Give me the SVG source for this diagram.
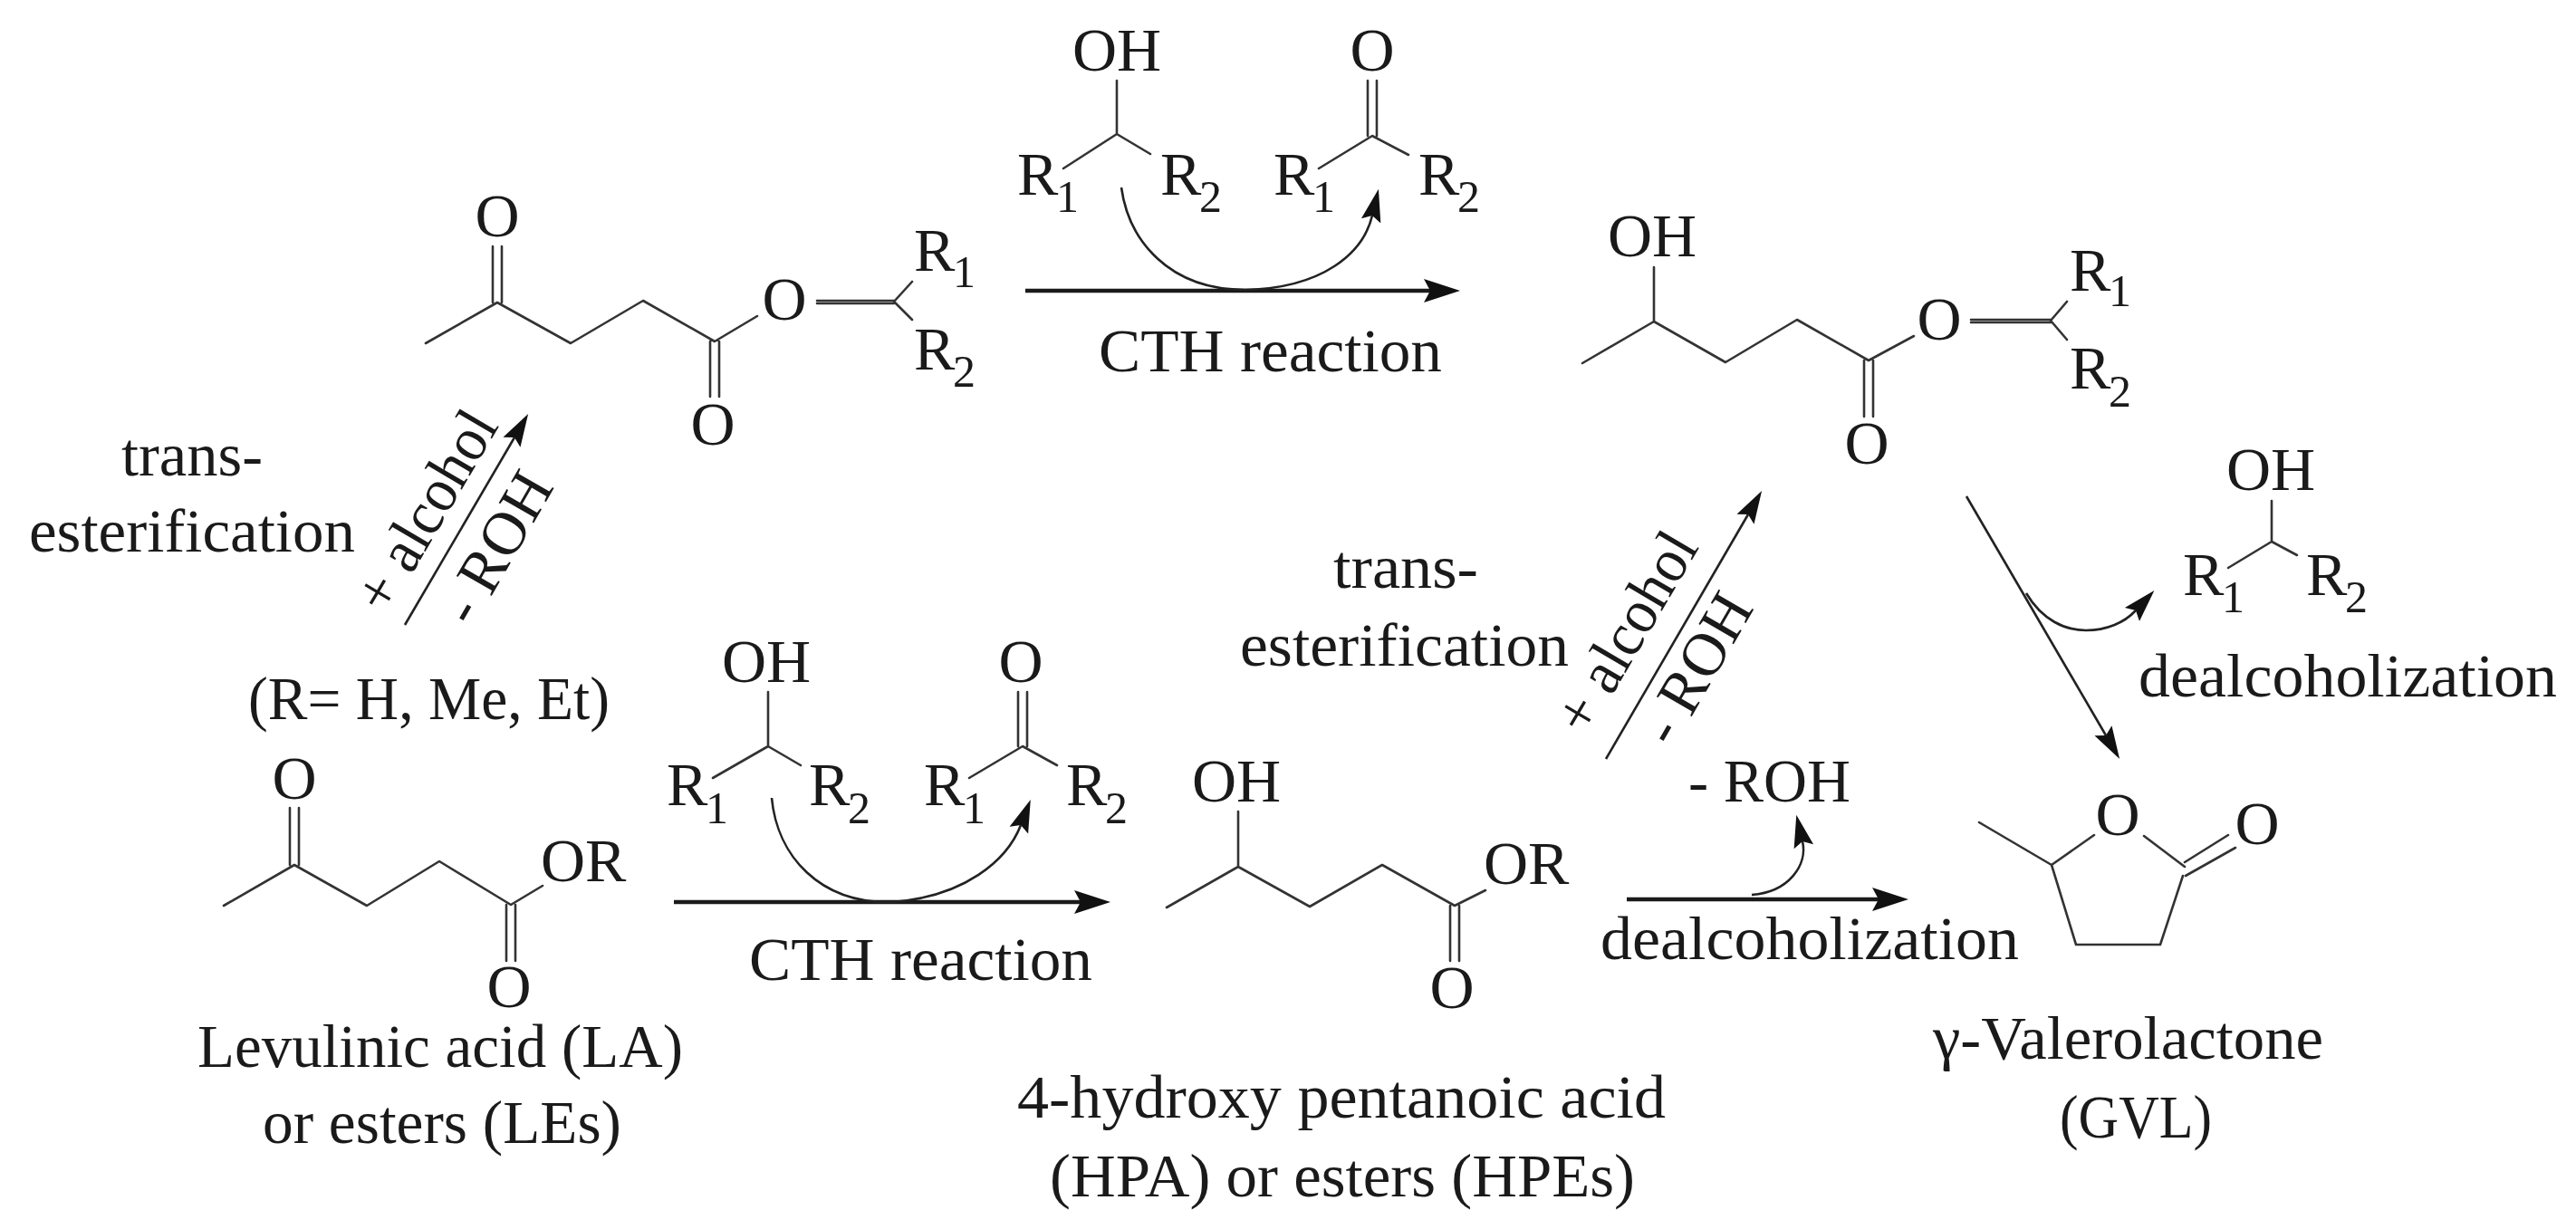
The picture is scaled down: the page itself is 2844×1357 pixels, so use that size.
<svg xmlns="http://www.w3.org/2000/svg" width="2844" height="1357" viewBox="0 0 2844 1357">
<style>
text{font-family:"Liberation Serif","Times New Roman",serif;font-size:68px;fill:#1a1a1a}
.s{font-size:50px}
.m{text-anchor:middle}
.b{fill:none;stroke:#333;stroke-width:2.6;stroke-linecap:round;stroke-linejoin:round}
.a{fill:none;stroke:#222;stroke-width:2.6}
.t{stroke:#1a1a1a;stroke-width:4.5;fill:none}
</style>
<defs>
<marker id="big" markerUnits="userSpaceOnUse" markerWidth="44" markerHeight="30" viewBox="0 -15 44 30" refX="7" refY="0" orient="auto"><path d="M0,-13 L40,0 L0,13 L7,0z" fill="#111"/></marker>
<marker id="thin" markerUnits="userSpaceOnUse" markerWidth="40" markerHeight="26" viewBox="0 -13 40 26" refX="6" refY="0" orient="auto"><path d="M0,-11 L36,0 L0,11 L6,0z" fill="#111"/></marker>
</defs>
<rect width="2844" height="1357" fill="#fff"/>

<g id="connectors">
<path class="t" d="M1132,321H1579" marker-end="url(#big)"/>
<path class="t" d="M744,996H1193" marker-end="url(#big)"/>
<path class="t" d="M1796,993H2074" marker-end="url(#big)"/>
<path class="a" d="M447,690L568,483" marker-end="url(#thin)"/>
<path class="a" d="M1773,838L1930,568" marker-end="url(#thin)"/>
<path class="a" d="M2171,548L2325,812" marker-end="url(#thin)"/>
<path class="a" d="M1238,207C1246,265 1290,320 1375,320C1460,318 1505,280 1515,238" marker-end="url(#thin)"/>
<path class="a" d="M852,881C858,945 905,998 985,996C1065,990 1112,950 1127,911" marker-end="url(#thin)"/>
<path class="a" d="M2237,655C2255,685 2280,696 2303,696C2325,696 2345,688 2358,674" marker-end="url(#thin)"/>
<path class="a" d="M1934,988C1975,985 1996,955 1990,929" marker-end="url(#thin)"/>
</g>

<g id="keto-ester">
<path class="b" d="M470,379L549,334L630,379L710,332L789,377L836,349M544,334V272M554,334V272M784,377V438M794,377V438M902,332H987M902,335H987M987,333L1007,311M987,333L1007,353"/>
<text class="m" x="549" y="261">O</text>
<text class="m" x="866" y="353">O</text>
<text class="m" x="787" y="491">O</text>
<text x="1009" y="299">R</text><text class="s" x="1052" y="317">1</text>
<text x="1009" y="408">R</text><text class="s" x="1052" y="427">2</text>
</g>

<g id="alcohol-top">
<path class="b" d="M1233,89V148L1174,186M1233,148L1270,170"/>
<text class="m" x="1233" y="78">OH</text>
<text x="1123" y="215">R</text><text class="s" x="1166" y="234">1</text>
<text x="1281" y="215">R</text><text class="s" x="1324" y="234">2</text>
</g>

<g id="ketone-top">
<path class="b" d="M1510,89V150M1520,89V150M1515,150L1456,186M1515,150L1555,171"/>
<text class="m" x="1515" y="78">O</text>
<text x="1406" y="215">R</text><text class="s" x="1449" y="234">1</text>
<text x="1566" y="215">R</text><text class="s" x="1609" y="234">2</text>
</g>

<g id="label-cth-top"><text x="1213" y="410" textLength="379" lengthAdjust="spacingAndGlyphs">CTH reaction</text></g>

<g id="hydroxy-ester">
<path class="b" d="M1747,401L1826,355V295M1826,355L1905,400L1984,353L2063,398L2113,371M2058,398V460M2068,398V460M2176,353H2264M2176,356H2264M2264,354L2282,333M2264,354L2282,375"/>
<text class="m" x="1824" y="283">OH</text>
<text class="m" x="2141" y="375">O</text>
<text class="m" x="2061" y="512">O</text>
<text x="2285" y="321">R</text><text class="s" x="2328" y="338">1</text>
<text x="2285" y="429">R</text><text class="s" x="2328" y="449">2</text>
</g>

<g id="label-trans-left">
<text x="134" y="525" textLength="156" lengthAdjust="spacingAndGlyphs">trans-</text>
<text x="32" y="609" textLength="360" lengthAdjust="spacingAndGlyphs">esterification</text>
<text transform="translate(427,681) rotate(-59.5)" textLength="245" lengthAdjust="spacingAndGlyphs">+ alcohol</text>
<text transform="translate(522,694) rotate(-60)" textLength="181" lengthAdjust="spacingAndGlyphs">- ROH</text>
<text x="274" y="794" textLength="399" lengthAdjust="spacingAndGlyphs">(R= H, Me, Et)</text>
</g>

<g id="label-trans-right">
<text x="1472" y="649" textLength="160" lengthAdjust="spacingAndGlyphs">trans-</text>
<text x="1369" y="735" textLength="363" lengthAdjust="spacingAndGlyphs">esterification</text>
<text transform="translate(1752,815) rotate(-59.5)" textLength="245" lengthAdjust="spacingAndGlyphs">+ alcohol</text>
<text transform="translate(1847,827) rotate(-60)" textLength="180" lengthAdjust="spacingAndGlyphs">- ROH</text>
</g>

<g id="alcohol-right">
<path class="b" d="M2508,553V598L2460,627M2508,598L2536,613"/>
<text class="m" x="2507" y="541">OH</text>
<text x="2410" y="657">R</text><text class="s" x="2453" y="676">1</text>
<text x="2546" y="657">R</text><text class="s" x="2589" y="676">2</text>
<text x="2361" y="769" textLength="462" lengthAdjust="spacingAndGlyphs">dealcoholization</text>
</g>

<g id="levulinic-acid">
<path class="b" d="M247,1000L325,955L405,1000L485,951L564,999L599,978M320,955V892M330,955V892M559,999V1061M569,999V1061"/>
<text class="m" x="325" y="882">O</text>
<text x="597" y="973">OR</text>
<text class="m" x="562" y="1112">O</text>
<text x="218" y="1178" textLength="536" lengthAdjust="spacingAndGlyphs">Levulinic acid (LA)</text>
<text x="290" y="1262" textLength="396" lengthAdjust="spacingAndGlyphs">or esters (LEs)</text>
</g>

<g id="alcohol-bottom">
<path class="b" d="M848,764V824L787,859M848,824L884,845"/>
<text class="m" x="846" y="753">OH</text>
<text x="736" y="889">R</text><text class="s" x="779" y="909">1</text>
<text x="893" y="889">R</text><text class="s" x="936" y="909">2</text>
</g>

<g id="ketone-bottom">
<path class="b" d="M1124,764V824M1134,764V824M1129,824L1070,859M1129,824L1167,845"/>
<text class="m" x="1127" y="753">O</text>
<text x="1020" y="889">R</text><text class="s" x="1063" y="909">1</text>
<text x="1177" y="889">R</text><text class="s" x="1220" y="909">2</text>
</g>

<g id="label-cth-bottom"><text x="827" y="1082" textLength="379" lengthAdjust="spacingAndGlyphs">CTH reaction</text></g>

<g id="hydroxy-acid">
<path class="b" d="M1288,1002L1367,957V896M1367,957L1446,1001L1526,955L1606,1000L1640,983M1601,1000V1061M1611,1000V1061"/>
<text class="m" x="1365" y="885">OH</text>
<text x="1638" y="976">OR</text>
<text class="m" x="1603" y="1113">O</text>
<text x="1123" y="1234" textLength="716" lengthAdjust="spacingAndGlyphs">4-hydroxy pentanoic acid</text>
<text x="1159" y="1321" textLength="646" lengthAdjust="spacingAndGlyphs">(HPA) or esters (HPEs)</text>
</g>

<g id="label-dealc">
<text x="1864" y="885" textLength="179" lengthAdjust="spacingAndGlyphs">- ROH</text>
<text x="1767" y="1059" textLength="462" lengthAdjust="spacingAndGlyphs">dealcoholization</text>
</g>

<g id="gvl">
<path class="b" d="M2185,908L2265,955L2312,922M2367,923L2412,957M2265,955L2292,1043H2385L2410,967M2412,952L2460,922M2413,967L2468,936"/>
<text class="m" x="2338" y="922">O</text>
<text class="m" x="2492" y="932">O</text>
<text x="2134" y="1169" textLength="431" lengthAdjust="spacingAndGlyphs">γ-Valerolactone</text>
<text x="2274" y="1256" textLength="168" lengthAdjust="spacingAndGlyphs">(GVL)</text>
</g>
</svg>
